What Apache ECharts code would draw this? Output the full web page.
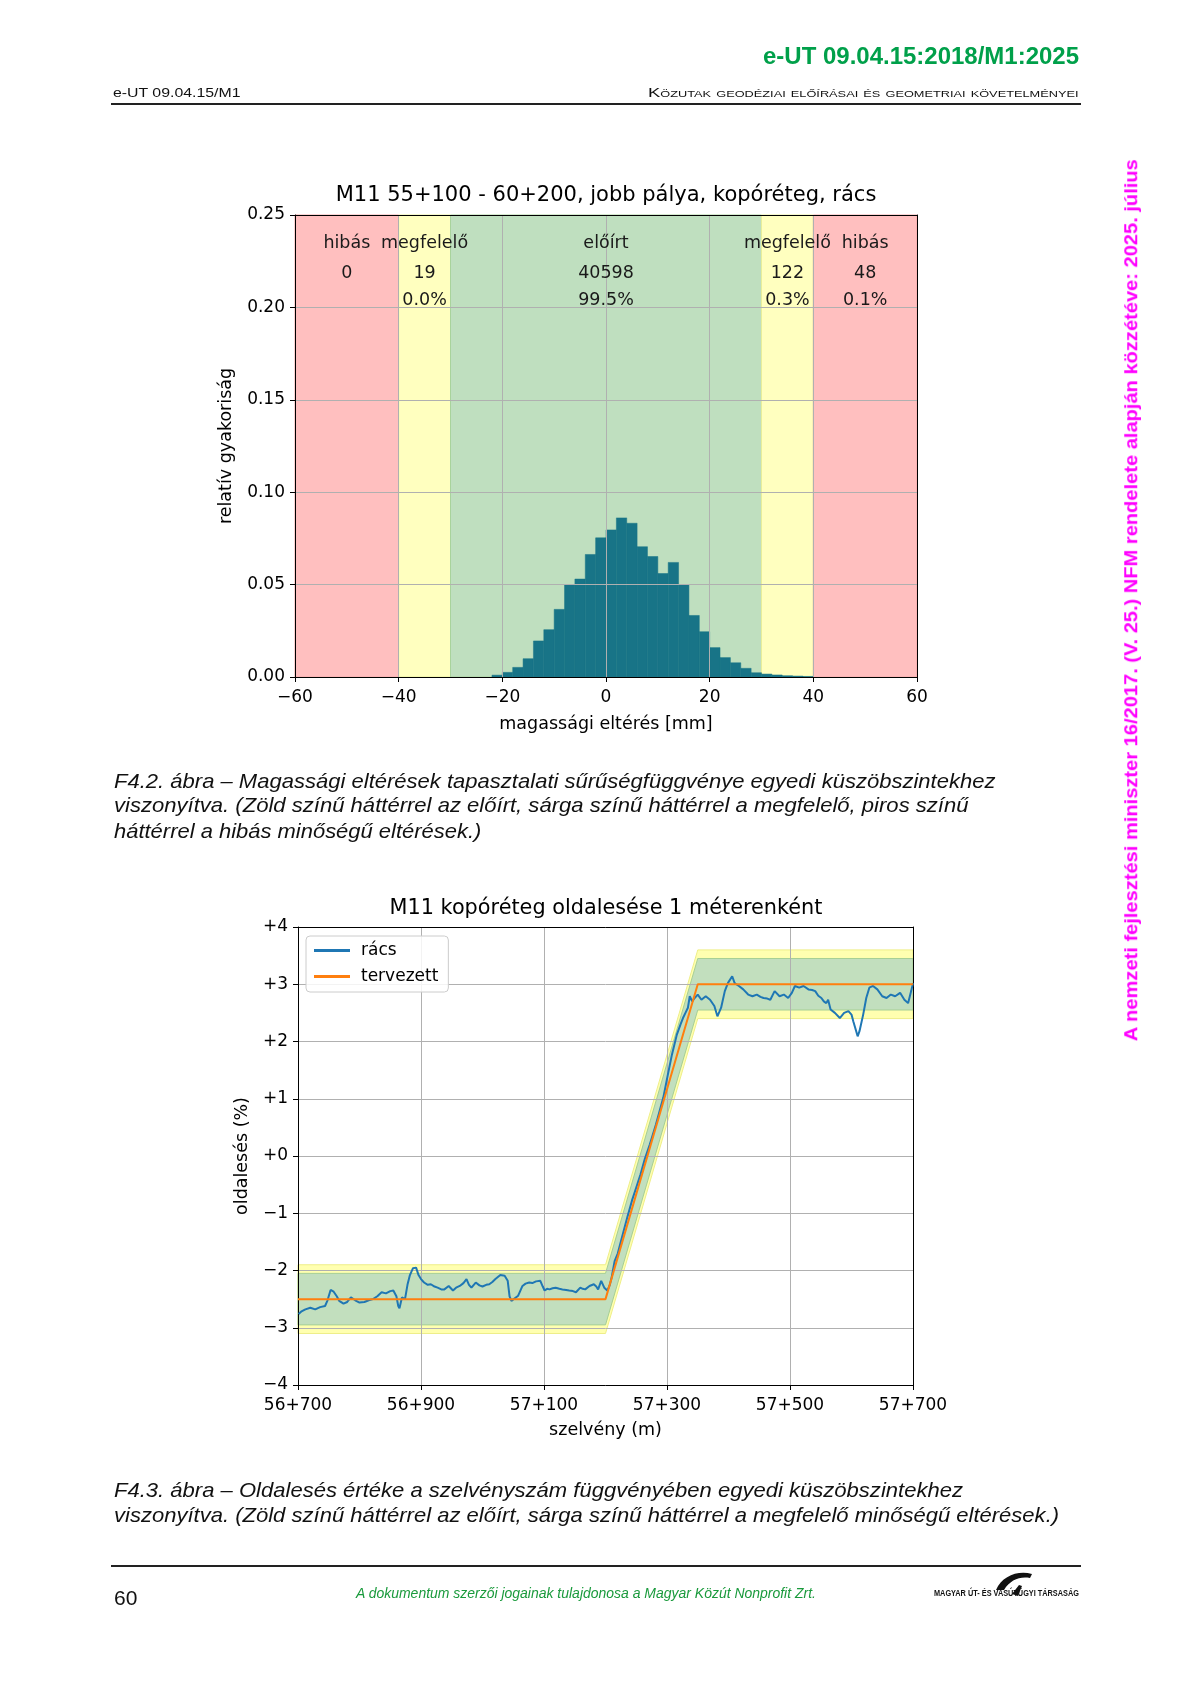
<!DOCTYPE html>
<html><head><meta charset="utf-8">
<script src="https://cdn.jsdelivr.net/npm/echarts@6/dist/echarts.min.js"></script>
<style>
html,body{margin:0;padding:0;background:#fff;}
#page{position:relative;width:1190px;height:1684px;overflow:hidden;background:#fff;}
#chart{position:absolute;left:0;top:0;width:1190px;height:1684px;}
.t{position:absolute;white-space:nowrap;font-family:"Liberation Sans",Arial,sans-serif;line-height:1;transform-origin:0 50%;color:#111;}
.hr{position:absolute;background:#222;}
</style></head>
<body><div id="page"><div id="chart"></div></div>
<script>
// ---------------- DATA ----------------
// Histogram (F4.2)
const histBinLeft = [-22,-20,-18,-16,-14,-12,-10,-8,-6,-4,-2,0,2,4,6,8,10,12,14,16,18,20,22,24,26,28,30,32,34,36,38];
const histValues  = [0.001,0.0025,0.0052,0.0099,0.0195,0.0256,0.0366,0.0499,0.053,0.0663,0.0753,0.0796,0.0861,0.0832,0.0705,0.0652,0.056,0.062,0.0499,0.0333,0.0245,0.0159,0.0105,0.0077,0.0047,0.0023,0.0016,0.0011,0.0007,0.0005,0.0003];
const histBinWidth = 2;
const zoneLimits  = [-60,-40,-30,30,40,60];
const zoneClass   = ['hibás','megfelelő','előírt','megfelelő','hibás'];
const zoneCenters = [-50,-35,0,35,50];
const zoneCounts  = ['0','19','40598','122','48'];
const zonePercents= ['','0.0%','99.5%','0.3%','0.1%'];
const histXTicks = {min:-60,max:60,step:20};
const histYTicks = {min:0,max:0.25,step:0.05};

// Cross slope (F4.3)
const designX = [56700,57200,57350,57700];
const designY = [-2.5,-2.5,3.0,3.0];
const greenTol = 0.45;   // előírt
const yellowTol = 0.6;   // megfelelő
const measX = [56701,56705,56712,56720,56728,56736,56744,56748,56753,56758,56763,56767,56774,56780,56786,56793,56800,56808,56815,56822,56829,56836,56843,56850,56855,56860,56863,56865,56869,56874,56878,56882,56887,56892,56896,56900,56905,56911,56916,56922,56927,56933,56938,56945,56952,56957,56963,56969,56974,56978,56982,56989,56995,57000,57006,57011,57016,57021,57029,57036,57041,57044,57047,57050,57058,57065,57070,57076,57081,57087,57094,57098,57101,57105,57109,57114,57119,57125,57130,57136,57141,57147,57152,57159,57163,57167,57174,57181,57185,57188,57193,57198,57203,57207,57210,57215,57220,57228,57236,57243,57250,57257,57264,57272,57282,57294,57301,57308,57316,57322,57326,57330,57334,57337,57341,57345,57350,57356,57363,57370,57377,57382,57388,57394,57399,57406,57410,57417,57424,57432,57439,57446,57452,57457,57463,57468,57475,57483,57490,57497,57503,57508,57515,57522,57530,57536,57541,57546,57551,57555,57559,57562,57566,57573,57581,57588,57595,57600,57603,57606,57610,57613,57619,57624,57629,57635,57642,57650,57657,57664,57671,57679,57686,57692,57697,57700];
const measY = [-2.76,-2.72,-2.68,-2.65,-2.68,-2.64,-2.62,-2.52,-2.34,-2.37,-2.45,-2.53,-2.58,-2.55,-2.47,-2.52,-2.56,-2.55,-2.52,-2.50,-2.45,-2.38,-2.40,-2.36,-2.35,-2.45,-2.62,-2.66,-2.47,-2.50,-2.25,-2.08,-1.96,-1.95,-2.08,-2.15,-2.21,-2.25,-2.24,-2.28,-2.30,-2.33,-2.33,-2.27,-2.35,-2.30,-2.27,-2.22,-2.15,-2.25,-2.30,-2.21,-2.26,-2.28,-2.25,-2.24,-2.20,-2.15,-2.08,-2.09,-2.18,-2.45,-2.53,-2.50,-2.44,-2.27,-2.23,-2.21,-2.22,-2.19,-2.18,-2.28,-2.35,-2.32,-2.33,-2.31,-2.30,-2.32,-2.33,-2.34,-2.35,-2.36,-2.38,-2.30,-2.32,-2.33,-2.27,-2.24,-2.28,-2.33,-2.18,-2.30,-2.35,-2.25,-2.12,-1.83,-1.70,-1.37,-1.05,-0.78,-0.55,-0.32,-0.05,0.20,0.55,1.02,1.40,1.77,2.12,2.30,2.41,2.50,2.59,2.79,2.70,2.76,2.82,2.73,2.79,2.73,2.62,2.44,2.59,2.88,3.02,3.14,3.02,2.97,2.91,2.82,2.79,2.82,2.78,2.76,2.75,2.73,2.88,2.79,2.82,2.76,2.85,2.97,2.94,2.97,2.91,2.90,2.88,2.80,2.76,2.70,2.67,2.73,2.56,2.50,2.41,2.50,2.53,2.47,2.35,2.24,2.09,2.18,2.47,2.76,2.94,2.97,2.91,2.79,2.76,2.82,2.79,2.85,2.73,2.67,2.88,3.02];
const slopeXTicks = {min:56700,max:57700,step:200};
const slopeYTicks = {min:-4,max:4,step:1};

// ---------------- PAGE TEXT ----------------
const page = document.getElementById('page');
function addText(txt, o){
  const d = document.createElement('div');
  d.className = 't';
  d.textContent = txt;
  d.style.fontSize = o.size + 'px';
  if (o.bold) d.style.fontWeight = 'bold';
  if (o.italic) d.style.fontStyle = 'italic';
  if (o.color) d.style.color = o.color;
  if (o.variant) d.style.fontVariant = o.variant;
  if (o.family) d.style.fontFamily = o.family;
  page.appendChild(d);
  const w = d.offsetWidth, h = d.offsetHeight;
  const s = o.w ? o.w / w : 1;
  if (o.rotate) {
    d.style.left = (o.x - w/2) + 'px';
    d.style.top = (o.y - h/2) + 'px';
    d.style.transformOrigin = '50% 50%';
    d.style.transform = 'rotate(-90deg) scaleX(' + s + ')';
    return;
  }
  let left = o.x;
  const rw = w * s;
  if (o.align === 'right') left = o.x - rw;
  else if (o.align === 'center') left = o.x - rw/2;
  d.style.left = left + 'px';
  d.style.top = (o.y - h/2) + 'px';
  d.style.transform = 'scaleX(' + s + ')';
}
function addRule(x, y, w, h){
  const d = document.createElement('div'); d.className='hr';
  d.style.left=x+'px'; d.style.top=y+'px'; d.style.width=w+'px'; d.style.height=h+'px';
  page.appendChild(d);
}
addText('e-UT 09.04.15:2018/M1:2025', {x:1079, y:56, size:23, bold:true, color:'#00a04a', w:316, align:'right'});
addText('e-UT 09.04.15/M1', {x:113, y:92.5, size:13.5, w:128});
addText('Közutak geodéziai előírásai és geometriai követelményei', {x:1079, y:92.5, size:13, variant:'small-caps', w:431, align:'right'});
addRule(111, 103, 970, 2);

addText('F4.2. ábra – Magassági eltérések tapasztalati sűrűségfüggvénye egyedi küszöbszintekhez', {x:114, y:780, size:21, italic:true, w:882});
addText('viszonyítva. (Zöld színű háttérrel az előírt, sárga színű háttérrel a megfelelő, piros színű', {x:114, y:804.5, size:21, italic:true, w:855});
addText('háttérrel a hibás minőségű eltérések.)', {x:114, y:830, size:21, italic:true, w:367});

addText('F4.3. ábra – Oldalesés értéke a szelvényszám függvényében egyedi küszöbszintekhez', {x:114, y:1489.5, size:21, italic:true, w:849});
addText('viszonyítva. (Zöld színű háttérrel az előírt, sárga színű háttérrel a megfelelő minőségű eltérések.)', {x:114, y:1514, size:21, italic:true, w:945});

addRule(111, 1565, 970, 1.5);
addText('60', {x:114, y:1597, size:21});
addText('A dokumentum szerzői jogainak tulajdonosa a Magyar Közút Nonprofit Zrt.', {x:586, y:1593, size:14, italic:true, color:'#1a9a3c', w:460, align:'center'});
addText('MAGYAR ÚT- ÉS VASÚTÜGYI TÁRSASÁG', {x:934, y:1593, size:9.5, bold:true, w:145});
(function(){
  const ns='http://www.w3.org/2000/svg';
  const svg=document.createElementNS(ns,'svg');
  svg.setAttribute('width','44'); svg.setAttribute('height','30');
  svg.style.position='absolute'; svg.style.left='992px'; svg.style.top='1568px';
  const p=document.createElementNS(ns,'path');
  p.setAttribute('d','M4 22 C10 8 26 2 40 6 L38 10 C28 8 18 12 12 22 Z M20 26 L26 28 L30 18 L27 17 Z');
  p.setAttribute('fill','#111');
  svg.appendChild(p); page.appendChild(svg);
})();
addText('A nemzeti fejlesztési miniszter 16/2017. (V. 25.) NFM rendelete alapján közzétéve: 2025. július', {x:1131.5, y:600, size:18.5, bold:true, color:'#ff00ff', w:882, rotate:true});

// ---------------- CHARTS ----------------
const FONT = 'DejaVu Sans';
const minus = v => (v < 0 ? '\u2212' + Math.abs(v) : String(v));
const bandColors = {'hibás':'#ffbfbf','megfelelő':'#ffffbf','előírt':'#bfdfbf'};
const bandEdge = {'hibás':'#f5a8a8','megfelelő':'#e8ee9a','előírt':'#a9d39c'};
const G0 = {left:295, top:215, width:622, height:462};
const G1 = {left:298, top:927, width:615, height:458};

const zoneData = zoneClass.map((c,i)=>[zoneLimits[i], zoneLimits[i+1], i]);
const histData = histBinLeft.map((x,i)=>[x, histValues[i]]);
const annoData = zoneCenters.map((x,i)=>[x, i]);
const annoRowY = [0.2345, 0.2185, 0.2035];

const designLine = designX.map((x,i)=>[x, designY[i]]);
const measLine = measX.map((x,i)=>[x, measY[i]]);

function bandPolygon(tol, fill, stroke){
  return function(params, api){
    if (params.dataIndex !== 0) return null;
    const pts = [];
    for (let i=0;i<designX.length;i++) pts.push(api.coord([designX[i], designY[i]+tol]));
    for (let i=designX.length-1;i>=0;i--) pts.push(api.coord([designX[i], designY[i]-tol]));
    return {type:'polygon', shape:{points:pts}, style:{fill:fill, stroke:stroke, lineWidth:1}};
  };
}

const axisTxt = {color:'#000', fontFamily:FONT, fontSize:17};
const nameTxt = {color:'#000', fontFamily:FONT, fontSize:17.5};
const blackLine = {show:true, onZero:false, lineStyle:{color:'#000', width:1}};
const tick = {show:true, length:5, lineStyle:{color:'#000'}};
const split = {show:true, lineStyle:{color:'#b0b0b0', width:1}};
const frameAxis = (extra)=>Object.assign({type:'value', z:2, axisLine:blackLine, axisTick:{show:false}, axisLabel:{show:false}, splitLine:{show:false}}, extra);

const chart = echarts.init(document.getElementById('chart'), null, {renderer:'canvas'});
chart.setOption({
  animation:false,
  grid:[Object.assign({containLabel:false}, G0), Object.assign({containLabel:false}, G1)],
  graphic:[
    {type:'text', x:606, y:196, z:10, style:{text:'M11 55+100 - 60+200, jobb pálya, kopóréteg, rács', fontFamily:FONT, fontSize:21, fill:'#000', textAlign:'center', textVerticalAlign:'middle', align:'center', verticalAlign:'middle'}},
    {type:'text', x:606, y:909, z:10, style:{text:'M11 kopóréteg oldalesése 1 méterenként', fontFamily:FONT, fontSize:20.8, fill:'#000', textAlign:'center', textVerticalAlign:'middle', align:'center', verticalAlign:'middle'}}
  ],
  xAxis:[
    {gridIndex:0, type:'value', z:2, min:histXTicks.min, max:histXTicks.max, interval:histXTicks.step,
     axisLine:blackLine, axisTick:tick, splitLine:split,
     axisLabel:Object.assign({margin:12, formatter:v=>minus(v)}, axisTxt),
     name:'magassági eltérés [mm]', nameLocation:'middle', nameGap:38, nameTextStyle:nameTxt},
    frameAxis({gridIndex:0, position:'top', min:histXTicks.min, max:histXTicks.max}),
    {gridIndex:1, type:'value', z:2, min:slopeXTicks.min, max:slopeXTicks.max, interval:slopeXTicks.step,
     axisLine:blackLine, axisTick:tick, splitLine:split,
     axisLabel:Object.assign({margin:12, formatter:v=>Math.floor(v/1000)+'+'+String(v%1000).padStart(3,'0')}, axisTxt),
     name:'szelvény (m)', nameLocation:'middle', nameGap:36, nameTextStyle:nameTxt},
    frameAxis({gridIndex:1, position:'top', min:slopeXTicks.min, max:slopeXTicks.max})
  ],
  yAxis:[
    {gridIndex:0, type:'value', z:2, min:histYTicks.min, max:histYTicks.max, interval:histYTicks.step,
     axisLine:blackLine, axisTick:tick, splitLine:split,
     axisLabel:Object.assign({margin:10, formatter:v=>v.toFixed(2)}, axisTxt),
     name:'relatív gyakoriság', nameLocation:'middle', nameGap:60, nameTextStyle:nameTxt},
    frameAxis({gridIndex:0, position:'right', min:histYTicks.min, max:histYTicks.max}),
    {gridIndex:1, type:'value', z:2, min:slopeYTicks.min, max:slopeYTicks.max, interval:slopeYTicks.step,
     axisLine:blackLine, axisTick:tick, splitLine:split,
     axisLabel:Object.assign({margin:10, formatter:v=> v>0 ? '+'+v : (v===0 ? '+0' : '\u2212'+(-v))}, axisTxt),
     name:'oldalesés (%)', nameLocation:'middle', nameGap:47, nameTextStyle:nameTxt},
    frameAxis({gridIndex:1, position:'right', min:slopeYTicks.min, max:slopeYTicks.max})
  ],
  legend:{
    data:['rács','tervezett'], orient:'vertical', left:306, top:936,
    padding:[6,10,7,8], itemGap:9, itemWidth:36, itemHeight:3, icon:'rect',
    backgroundColor:'rgba(255,255,255,0.85)', borderColor:'#cccccc', borderWidth:1, borderRadius:4,
    textStyle:{fontFamily:FONT, fontSize:17, color:'#000', padding:[0,0,0,6]}
  },
  series:[
    {type:'custom', name:'zones', xAxisIndex:0, yAxisIndex:0, z:1, silent:true, data:zoneData,
     renderItem:(params, api)=>{
       const p0 = api.coord([api.value(0), histYTicks.max]);
       const p1 = api.coord([api.value(1), histYTicks.min]);
       const c = zoneClass[api.value(2)];
       return {type:'rect', shape:{x:p0[0], y:p0[1], width:p1[0]-p0[0], height:p1[1]-p0[1]}, style:{fill:bandColors[c], stroke:bandEdge[c], lineWidth:1}};
     }},
    {type:'custom', name:'hist', xAxisIndex:0, yAxisIndex:0, z:1, silent:true, data:histData,
     renderItem:(params, api)=>{
       const p0 = api.coord([api.value(0), api.value(1)]);
       const p1 = api.coord([api.value(0)+histBinWidth, 0]);
       return {type:'rect', shape:{x:p0[0], y:p0[1], width:p1[0]-p0[0], height:p1[1]-p0[1]}, style:{fill:'#187487', stroke:'#187487', lineWidth:0.5}};
     }},
    {type:'custom', name:'anno', xAxisIndex:0, yAxisIndex:0, z:3, silent:true, data:annoData, clip:false,
     renderItem:(params, api)=>{
       const i = api.value(1), x = api.value(0);
       const rows = [zoneClass[i], zoneCounts[i], zonePercents[i]];
       return {type:'group', children: rows.map((t,r)=>{
         const p = api.coord([x, annoRowY[r]]);
         return {type:'text', x:p[0], y:p[1], style:{text:t, fontFamily:FONT, fontSize:17.5, fill:'#1a1a1a', textAlign:'center', textVerticalAlign:'middle', align:'center', verticalAlign:'middle'}};
       })};
     }},
    {type:'custom', name:'megfelelő sáv', xAxisIndex:2, yAxisIndex:2, z:1, silent:true, data:designLine,
     renderItem:bandPolygon(yellowTol, '#ffffb0', '#eeee88')},
    {type:'custom', name:'előírt sáv', xAxisIndex:2, yAxisIndex:2, z:1, silent:true, data:designLine,
     renderItem:bandPolygon(greenTol, '#c2dfbe', '#a6cf95')},
    {type:'line', name:'rács', xAxisIndex:2, yAxisIndex:2, z:3, data:measLine, showSymbol:false, symbol:'none',
     color:'#1f77b4', lineStyle:{color:'#1f77b4', width:2}},
    {type:'line', name:'tervezett', xAxisIndex:2, yAxisIndex:2, z:3, data:designLine, showSymbol:false, symbol:'none',
     color:'#ff7f0e', lineStyle:{color:'#ff7f0e', width:2}}
  ]
});
</script>
</body></html>
